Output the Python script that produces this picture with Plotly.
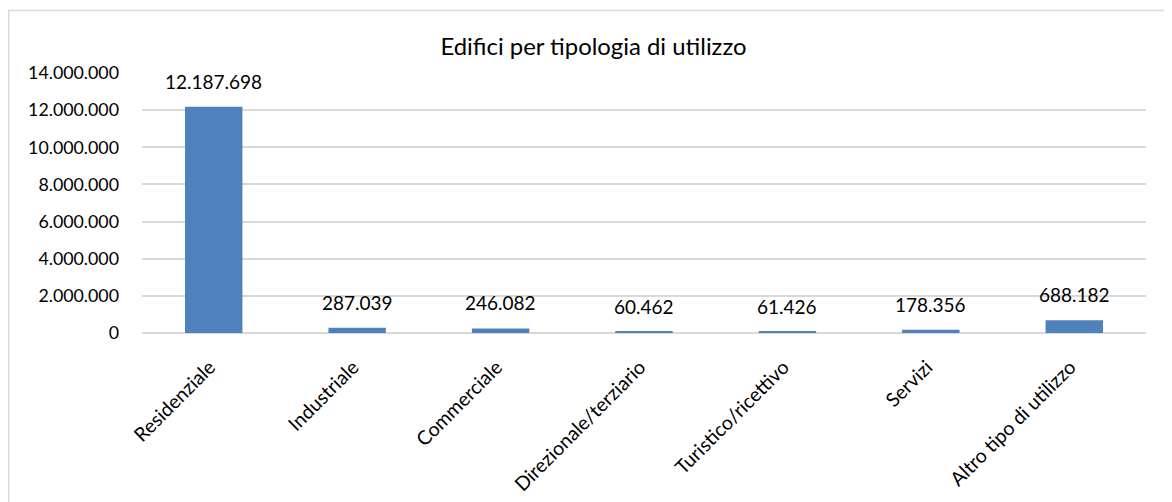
"script to produce the building use chart."

import plotly.graph_objects as go

categorie = [
    "Residenziale",
    "Industriale",
    "Commerciale",
    "Direzionale/terziario",
    "Turistico/ricettivo",
    "Servizi",
    "Altro tipo di utilizzo",
]
edifici = [12187698, 287039, 246082, 60462, 61426, 178356, 688182]
tick_vals = [0, 2000000, 4000000, 6000000, 8000000, 10000000, 12000000, 14000000]
tick_text = [f"{v:,}".replace(",", ".") for v in tick_vals]
etichette = [f"{v:,}".replace(",", ".") for v in edifici]

# the page body adds an 8px offset, so the figure is sized to the visible area
W, H = 1164, 494
L, R, T, B = 134, 26, 65, 169
FONT = "Lato"

fig = go.Figure()
fig.add_bar(
    x=categorie,
    y=edifici,
    marker_color="#4F81BD",
    marker_line_width=0,
    width=0.4,
    showlegend=False,
)

# data labels above bars
for cat, val, lab in zip(categorie, edifici, etichette):
    fig.add_annotation(
        x=cat,
        y=val,
        text=lab,
        showarrow=False,
        yanchor="bottom",
        yshift=12,
        font={"family": FONT, "size": 19, "color": "#000000"},
    )

# chart frame (top and left edges visible)
pw, ph = W - L - R, H - T - B
fig.add_shape(
    type="rect",
    xref="paper",
    yref="paper",
    x0=(0.75 - L) / pw,
    x1=(W + 20 - L) / pw,
    y0=-1.0,
    y1=(H - B - 2.5) / ph,
    line={"color": "#D9D9D9", "width": 1.5},
    layer="below",
)

fig.update_layout(
    width=W,
    height=H,
    margin={"l": L, "r": R, "t": T, "b": B, "autoexpand": False},
    paper_bgcolor="white",
    plot_bgcolor="white",
    title={
        "text": "Edifici per tipologia di utilizzo",
        "x": 0.503,
        "xanchor": "center",
        "y": 0.921,
        "yanchor": "middle",
        "font": {"family": FONT, "size": 23.9, "color": "#000000"},
    },
    font={"family": FONT, "size": 18.5, "color": "#000000"},
)
fig.update_xaxes(
    tickangle=-45,
    showgrid=False,
    showline=False,
    ticks="",
    automargin=False,
    ticklabelstandoff=18,
    ticklabelshift=-4,
    tickfont={"family": FONT, "size": 19.5},
)
fig.update_yaxes(
    range=[0, 14000000],
    tickvals=tick_vals,
    ticktext=tick_text,
    showgrid=True,
    gridcolor="#D9D9D9",
    gridwidth=1.5,
    zeroline=True,
    zerolinecolor="#D9D9D9",
    zerolinewidth=1.5,
    showline=False,
    ticks="",
    automargin=False,
    ticklabelstandoff=22,
    tickfont={"family": FONT, "size": 17.8},
)

fig.write_html("out.html")
